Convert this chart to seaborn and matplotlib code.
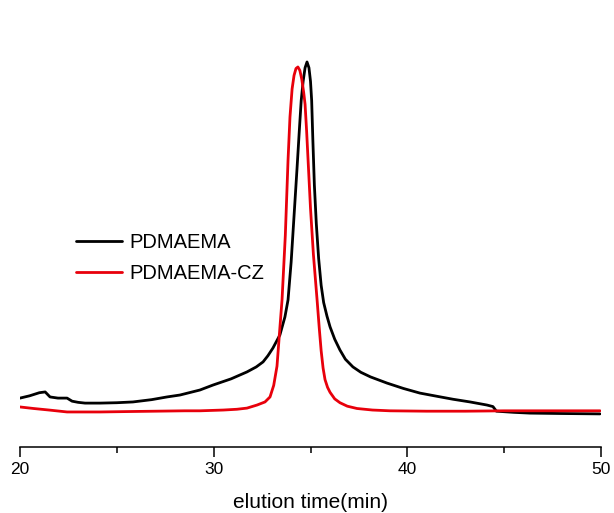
import numpy as np
import pandas as pd
import matplotlib
matplotlib.use("Agg")
import matplotlib.pyplot as plt
import seaborn as sns
from matplotlib.ticker import MultipleLocator

# GPC traces (elution time in min, normalised signal)
pdmaema_t = [20.0, 20.5, 21.0, 21.3, 21.55, 21.96, 22.43, 22.69, 23.0, 23.36, 24.13, 25.0, 25.83,
             26.8, 27.59, 28.26, 29.29, 29.97, 30.9, 31.72, 32.2, 32.55, 32.8, 33.06, 33.42, 33.68,
             33.84, 34.0, 34.15, 34.3, 34.42, 34.52, 34.62, 34.72, 34.82, 34.92, 35.0, 35.06,
             35.12, 35.2, 35.3, 35.42, 35.55, 35.68, 35.85, 36.01, 36.25, 36.52, 36.8, 37.19,
             37.6, 38.1, 38.95, 39.8, 40.65, 41.5, 42.36, 43.24, 44.11, 44.42, 44.6, 45.5, 46.33,
             47.88, 49.95]
pdmaema_s = [0.127, 0.133, 0.141, 0.143, 0.130, 0.127, 0.127, 0.119, 0.116, 0.114, 0.114, 0.115, 0.117,
             0.123, 0.130, 0.135, 0.148, 0.161, 0.177, 0.195, 0.208, 0.221, 0.237, 0.257, 0.291, 0.338,
             0.382, 0.48, 0.60, 0.72, 0.82, 0.90, 0.95, 0.985, 1.0, 0.985, 0.95, 0.90,
             0.80, 0.68, 0.58, 0.49, 0.42, 0.375, 0.34, 0.312, 0.28, 0.252, 0.228, 0.208,
             0.194, 0.182, 0.166, 0.152, 0.140, 0.132, 0.124, 0.117, 0.109, 0.105, 0.093, 0.090, 0.088,
             0.087, 0.086]

cz_t = [20.0, 20.7, 21.5, 22.43, 23.5, 24.13, 25.5, 27.0, 28.5, 29.29, 30.5, 31.2, 31.72, 32.24,
        32.65, 32.91, 33.1, 33.27, 33.42, 33.53, 33.7, 33.84, 33.94, 34.05, 34.15, 34.25, 34.35,
        34.45, 34.55, 34.65, 34.72, 34.8, 34.9, 35.0, 35.15, 35.34, 35.45, 35.55, 35.65, 35.75,
        35.88, 36.01, 36.25, 36.52, 36.9, 37.4, 38.2, 39.1, 41.0, 43.0, 45.0, 47.0, 49.95]
cz_s = [0.104, 0.100, 0.096, 0.091, 0.091, 0.091, 0.092, 0.093, 0.094, 0.094, 0.096, 0.098, 0.101, 0.109,
        0.117, 0.130, 0.16, 0.21, 0.31, 0.382, 0.55, 0.745, 0.857, 0.93, 0.965, 0.983, 0.987,
        0.978, 0.955, 0.92, 0.89, 0.82, 0.72, 0.62, 0.50, 0.382, 0.31, 0.25, 0.205, 0.175,
        0.155, 0.142, 0.125, 0.115, 0.106, 0.100, 0.096, 0.094, 0.093, 0.093, 0.094, 0.094, 0.094]

labels = ["PDMAEMA", "PDMAEMA-CZ"]

df = pd.concat([
    pd.DataFrame({"t": pdmaema_t, "s": pdmaema_s, "sample": labels[0]}),
    pd.DataFrame({"t": cz_t, "s": cz_s, "sample": labels[1]}),
])

sns.set_style("white")
plt.rcParams["font.family"] = ["Liberation Sans", "DejaVu Sans"]
plt.rcParams["text.color"] = "black"
plt.rcParams["axes.labelcolor"] = "black"
plt.rcParams["xtick.color"] = "black"

fig = plt.figure(figsize=(6.14, 5.13), dpi=100)
ax = fig.add_axes([20 / 614, 1 - 447 / 513, 581 / 614, 427 / 513])

sns.lineplot(data=df, x="t", y="s", hue="sample", palette=["black", "#e8000b"],
             sort=False, estimator=None, linewidth=2.0, ax=ax)

ax.set_xlim(20, 50)
ax.set_ylim(0, 1.109)
ax.set_yticks([])
ax.set_ylabel("")
ax.set_xlabel("elution time(min)", fontsize=15, labelpad=11)
ax.xaxis.set_major_locator(MultipleLocator(10))
ax.xaxis.set_minor_locator(MultipleLocator(5))
ax.tick_params(axis="x", which="major", direction="out", length=7, width=1.1,
               labelsize=12.5, pad=4, bottom=True, colors="black")
ax.tick_params(axis="x", which="minor", direction="out", length=4.5, width=1.1, bottom=True)
for side in ["left", "top", "right"]:
    ax.spines[side].set_visible(False)
ax.spines["bottom"].set_linewidth(1.1)
ax.spines["bottom"].set_color("black")
ax.set_facecolor("white")

h, l = ax.get_legend_handles_labels()
leg = ax.legend(h, l, loc="upper left", bbox_to_anchor=(76 / 614, 1 - 233 / 513),
                bbox_transform=fig.transFigure, frameon=False, borderpad=0, borderaxespad=0,
                handlelength=2.3, handletextpad=0.35, labelspacing=0.62, fontsize=14.5)
for txt in leg.get_texts():
    txt.set_color("black")

fig.savefig("out.png", dpi=100, facecolor="white")
